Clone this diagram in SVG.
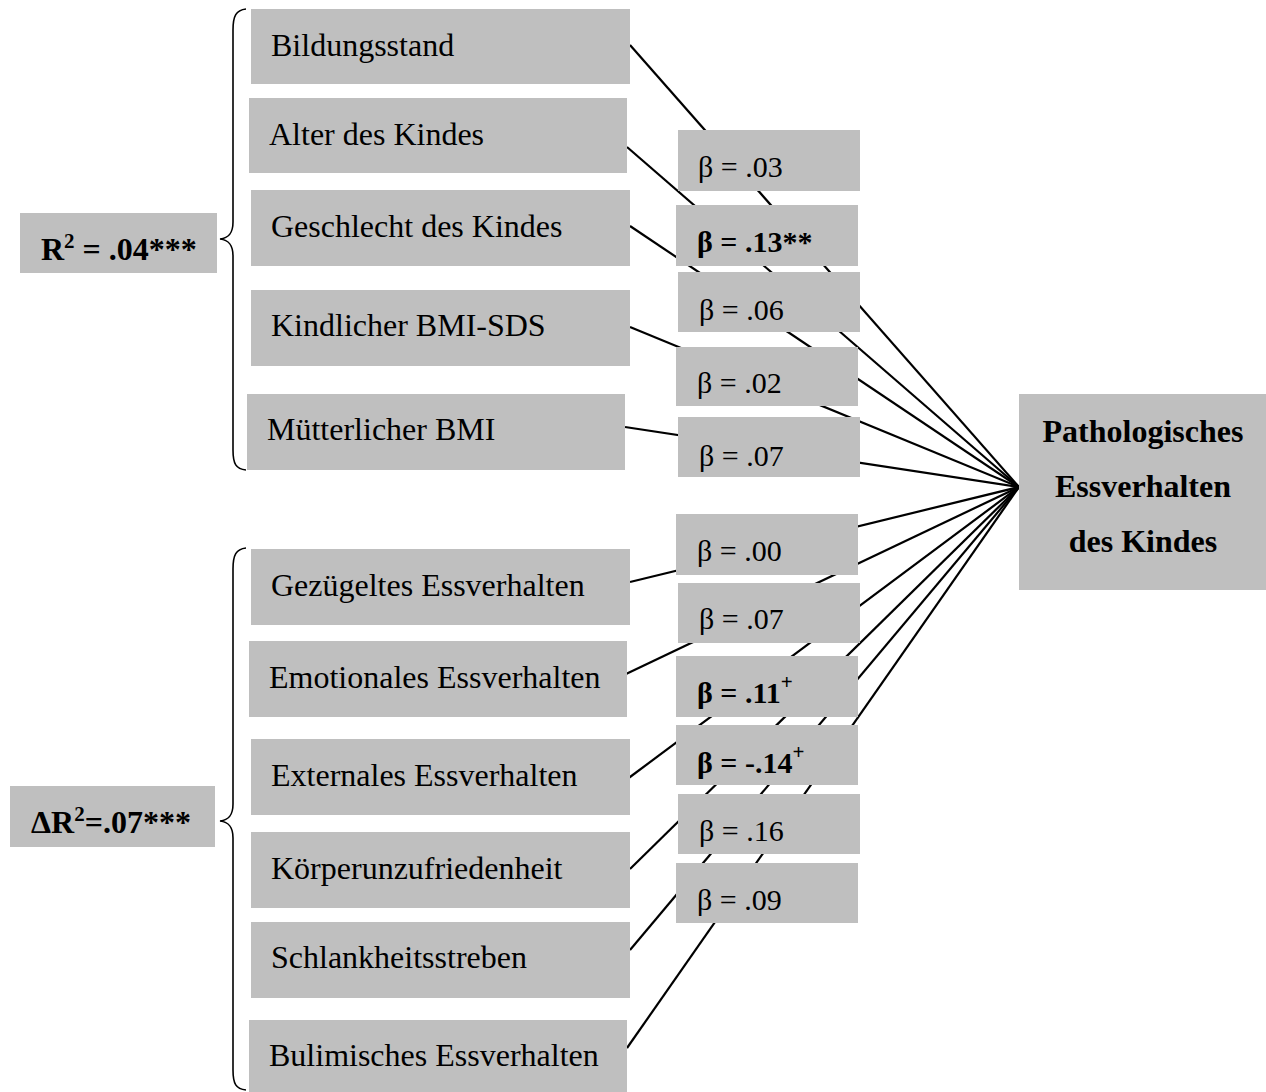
<svg xmlns="http://www.w3.org/2000/svg" width="1266" height="1092" viewBox="0 0 1266 1092">
  <style>
    .box { fill: #bfbfbf; }
    .lbl { font-family: "Liberation Serif", "Times New Roman", serif; font-size: 32px; fill: #000; }
    .beta { font-family: "Liberation Serif", "Times New Roman", serif; font-size: 30px; fill: #000; }
    .b { font-weight: bold; }
    .sup { font-size: 21px; }
    .conn line { stroke: #000; stroke-width: 2.2; }
    .brace { fill: none; stroke: #000; stroke-width: 1.6; }
  </style>

  <rect width="1266" height="1092" fill="#fff"/>

  <!-- connectors: every predictor to the outcome -->
  <g id="connectors" class="conn">
    <line x1="630" y1="45" x2="1019" y2="487"/>
    <line x1="627" y1="147" x2="1019" y2="487"/>
    <line x1="630" y1="226" x2="1019" y2="487"/>
    <line x1="630" y1="327" x2="1019" y2="487"/>
    <line x1="625" y1="427" x2="1019" y2="487"/>
    <line x1="630" y1="582" x2="1019" y2="487"/>
    <line x1="626" y1="674" x2="1019" y2="487"/>
    <line x1="626" y1="780" x2="1019" y2="487"/>
    <line x1="630" y1="869" x2="1019" y2="487"/>
    <line x1="630" y1="950" x2="1019" y2="487"/>
    <line x1="627" y1="1048" x2="1019" y2="487"/>
  </g>

  <!-- braces grouping the two blocks -->
  <g id="braces">
    <path class="brace" d="M246,9 C236,10 233,16 233,30 L233,222 C233,233 229,238 220,239 C229,240 233,245 233,256 L233,450 C233,464 236,469 246,470"/>
    <path class="brace" d="M246,548 C236,549 233,555 233,569 L233,804 C233,815 229,820 220,821 C229,822 233,827 233,838 L233,1070 C233,1084 236,1089 246,1090"/>
  </g>

  <!-- block summaries -->
  <g id="r2-block1">
    <rect class="box" x="20" y="213" width="197" height="60"/>
    <text class="lbl b" x="41" y="260">R<tspan class="sup" dy="-12">2</tspan><tspan dy="12"> = .04***</tspan></text>
  </g>
  <g id="r2-block2">
    <rect class="box" x="10" y="786" width="205" height="61"/>
    <text class="lbl b" x="31" y="833">ΔR<tspan class="sup" dy="-12">2</tspan><tspan dy="12">=.07***</tspan></text>
  </g>

  <!-- predictors, block 1 -->
  <g id="bildungsstand">
    <rect class="box" x="251" y="9" width="379" height="75"/>
    <text class="lbl" x="271" y="56">Bildungsstand</text>
  </g>
  <g id="alter">
    <rect class="box" x="249" y="98" width="378" height="75"/>
    <text class="lbl" x="269" y="145">Alter des Kindes</text>
  </g>
  <g id="geschlecht">
    <rect class="box" x="251" y="190" width="379" height="76"/>
    <text class="lbl" x="271" y="237">Geschlecht des Kindes</text>
  </g>
  <g id="bmi-kind">
    <rect class="box" x="251" y="290" width="379" height="76"/>
    <text class="lbl" x="271" y="336">Kindlicher BMI-SDS</text>
  </g>
  <g id="bmi-mutter">
    <rect class="box" x="247" y="394" width="378" height="76"/>
    <text class="lbl" x="267" y="440">Mütterlicher BMI</text>
  </g>

  <!-- predictors, block 2 -->
  <g id="gezuegelt">
    <rect class="box" x="251" y="549" width="379" height="76"/>
    <text class="lbl" x="271" y="596">Gezügeltes Essverhalten</text>
  </g>
  <g id="emotional">
    <rect class="box" x="249" y="641" width="378" height="76"/>
    <text class="lbl" x="269" y="688">Emotionales Essverhalten</text>
  </g>
  <g id="external">
    <rect class="box" x="251" y="739" width="379" height="76"/>
    <text class="lbl" x="271" y="786">Externales Essverhalten</text>
  </g>
  <g id="koerper">
    <rect class="box" x="251" y="832" width="379" height="76"/>
    <text class="lbl" x="271" y="879">Körperunzufriedenheit</text>
  </g>
  <g id="schlankheit">
    <rect class="box" x="251" y="922" width="379" height="76"/>
    <text class="lbl" x="271" y="968">Schlankheitsstreben</text>
  </g>
  <g id="bulimisch">
    <rect class="box" x="249" y="1020" width="378" height="72"/>
    <text class="lbl" x="269" y="1066">Bulimisches Essverhalten</text>
  </g>

  <!-- path coefficients -->
  <g id="beta-bildung">
    <rect class="box" x="678" y="130" width="182" height="61"/>
    <text class="beta" x="698" y="177">β = .03</text>
  </g>
  <g id="beta-alter">
    <rect class="box" x="676" y="205" width="182" height="61"/>
    <text class="beta b" x="697" y="252">β = .13**</text>
  </g>
  <g id="beta-geschlecht">
    <rect class="box" x="678" y="272" width="182" height="60"/>
    <text class="beta" x="699" y="320">β = .06</text>
  </g>
  <g id="beta-bmi-kind">
    <rect class="box" x="676" y="347" width="182" height="59"/>
    <text class="beta" x="697" y="393">β = .02</text>
  </g>
  <g id="beta-bmi-mutter">
    <rect class="box" x="678" y="417" width="182" height="60"/>
    <text class="beta" x="699" y="466">β = .07</text>
  </g>
  <g id="beta-gezuegelt">
    <rect class="box" x="676" y="514" width="182" height="61"/>
    <text class="beta" x="697" y="561">β = .00</text>
  </g>
  <g id="beta-emotional">
    <rect class="box" x="678" y="583" width="182" height="60"/>
    <text class="beta" x="699" y="629">β = .07</text>
  </g>
  <g id="beta-external">
    <rect class="box" x="676" y="656" width="182" height="61"/>
    <text class="beta b" x="697" y="703">β = .11<tspan class="sup" dy="-14">+</tspan></text>
  </g>
  <g id="beta-koerper">
    <rect class="box" x="676" y="725" width="182" height="60"/>
    <text class="beta b" x="697" y="773">β = -.14<tspan class="sup" dy="-14">+</tspan></text>
  </g>
  <g id="beta-schlankheit">
    <rect class="box" x="678" y="794" width="182" height="60"/>
    <text class="beta" x="699" y="841">β = .16</text>
  </g>
  <g id="beta-bulimisch">
    <rect class="box" x="676" y="863" width="182" height="60"/>
    <text class="beta" x="697" y="910">β = .09</text>
  </g>

  <!-- outcome -->
  <g id="outcome">
    <rect class="box" x="1019" y="394" width="247" height="196"/>
    <text class="lbl b" x="1143" y="442" text-anchor="middle">Pathologisches</text>
    <text class="lbl b" x="1143" y="497" text-anchor="middle">Essverhalten</text>
    <text class="lbl b" x="1143" y="552" text-anchor="middle">des Kindes</text>
  </g>
</svg>
